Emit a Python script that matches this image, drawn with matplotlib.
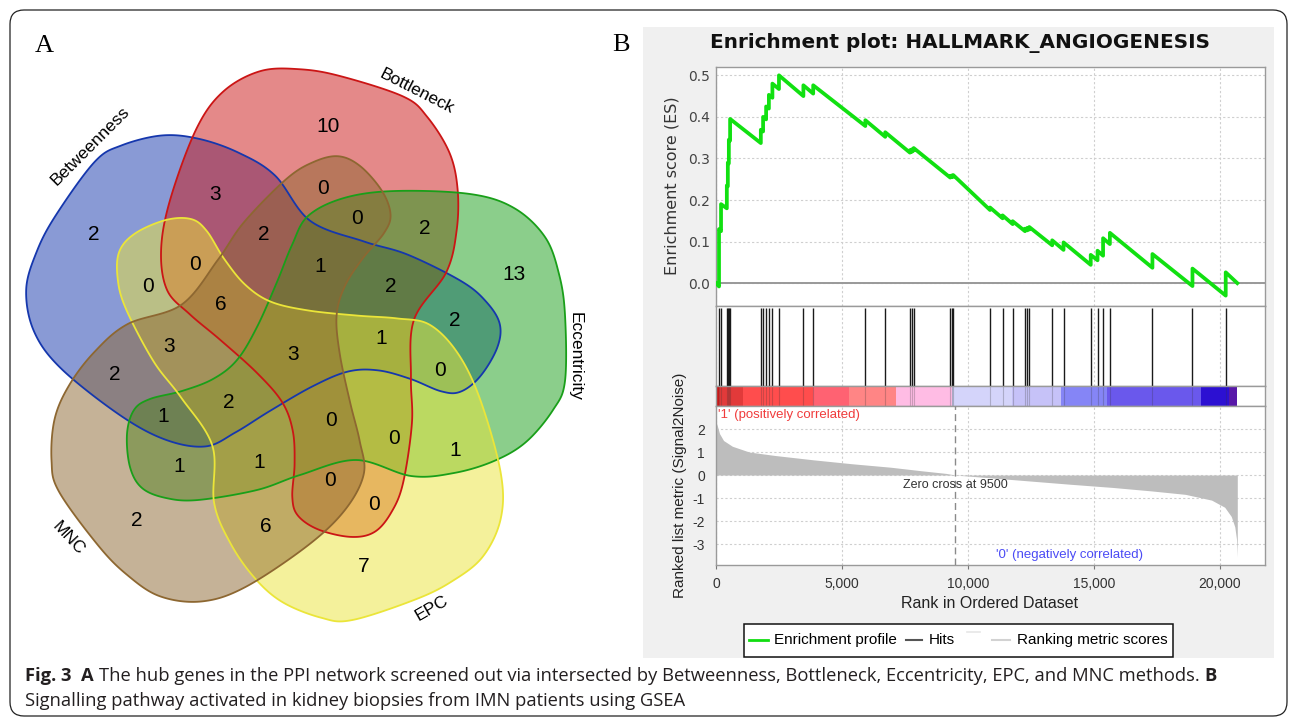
import numpy as np
import matplotlib
matplotlib.use("Agg")
import matplotlib.pyplot as plt
from matplotlib.patches import FancyBboxPatch, Rectangle, Polygon
from matplotlib.ticker import FuncFormatter

plt.rcParams["axes.unicode_minus"] = False

W, H = 1292, 724

# ── Panel A: hub genes found by each method (5-set Venn) ─────────────────────
SET_NAMES = ["Betweenness", "Bottleneck", "Eccentricity", "EPC", "MNC"]
SET_COLORS = ["#1537AD", "#CB1515", "#199F19", "#EBE539", "#8D6731"]
REGION_COUNTS = [2, 10, 13, 7, 2, 3, 0, 0, 2, 2, 0, 0, 1, 2, 6, 3,
                 2, 1, 3, 0, 2, 2, 1, 0, 0, 1, 1, 1, 0, 0, 6]

# ── Panel B: GSEA for HALLMARK_ANGIOGENESIS ─────────────────────────────────
HIT_RANKS = [120, 200, 430, 470, 510, 560, 1780, 1870, 1990, 2100, 2240, 2500,
             3470, 3860, 5930, 6720, 7700, 7780, 7850, 9300, 9360, 9420,
             10880, 11380, 11780, 12270, 12360, 12440, 13350, 13800, 14880,
             15150, 15370, 15640, 17330, 18920, 20240]
ES_BEFORE = [-0.008, 0.125, 0.180, 0.233, 0.288, 0.343, 0.337, 0.365, 0.394,
             0.420, 0.446, 0.467, 0.450, 0.456, 0.378, 0.352, 0.314, 0.316,
             0.319, 0.254, 0.255, 0.256, 0.176, 0.156, 0.142, 0.125, 0.127,
             0.129, 0.091, 0.080, 0.044, 0.055, 0.066, 0.094, 0.037, -0.007,
             -0.030]
ES_AFTER = [0.130, 0.190, 0.235, 0.290, 0.345, 0.395, 0.369, 0.400, 0.425,
            0.453, 0.480, 0.500, 0.476, 0.476, 0.392, 0.363, 0.320, 0.322,
            0.325, 0.258, 0.259, 0.260, 0.182, 0.163, 0.149, 0.131, 0.133,
            0.135, 0.103, 0.098, 0.068, 0.078, 0.108, 0.121, 0.070, 0.035,
            0.026]
LIST_END = 20700
METRIC_RANKS = [0, 50, 140, 300, 650, 1320, 2340, 3870, 5400, 6930, 8120,
                9140, 9500, 10660, 12360, 14060, 15760, 17290, 18640, 19680,
                20200, 20460, 20600, 20670, 20700]
METRIC_VALUES = [2.3, 2.15, 1.8, 1.5, 1.25, 1.0, 0.85, 0.66, 0.49, 0.34, 0.19,
                 0.07, 0.0, -0.10, -0.25, -0.40, -0.54, -0.69, -0.84, -1.09,
                 -1.4, -1.8, -2.25, -2.8, -3.55]
ZERO_CROSS = 9500
BAR_EDGES = [0, 130, 1060, 3840, 5300, 7150, 9380, 11770, 13700, 15530,
             19250, 20360, 20700]
BAR_COLORS = ["#C81818", "#E23A3A", "#FF4D4D", "#FF6272", "#FF8585", "#FFBCE4",
              "#D4D4FA", "#C6C2F8", "#8585F6", "#6A58EC", "#2C10D2", "#5818A8"]
X_TICKS = [0, 5000, 10000, 15000, 20000]
ES_TICKS = [0.0, 0.1, 0.2, 0.3, 0.4, 0.5]
METRIC_TICKS = [2, 1, 0, -1, -2, -3]

# ── Layout of panel A (pixels) ──────────────────────────────────────────────
VENN_CENTER = (294, 354)
# outline of one set (Eccentricity), relative to the centre, y up
PETAL = [(14, 138), (50, 156), (101, 163), (176, 160), (220, 146), (251, 117),
         (265, 80), (271, 39), (271, -27), (259, -56), (232, -88), (200, -107),
         (160, -119), (117, -122), (62, -106), (6, -121), (-37, -136),
         (-96, -146), (-128, -144), (-152, -134), (-164, -113), (-167, -80),
         (-160, -56), (-144, -45), (-112, -37), (-81, -25), (-57, -6),
         (-37, 27), (-17, 72), (-2, 109)]
PETAL_TURN = [144, 72, 0, -72, -144]
PETAL_SHIFT = [(4, -11), (0, -8), (0, 0), (0, 0), (0, 0)]
REGION_XY = [(94, 234), (328, 127), (514, 275), (364, 566), (137, 520),
             (215, 195), (323, 188), (357, 219), (425, 229), (264, 235),
             (148, 287), (195, 265), (320, 267), (391, 286), (221, 305),
             (293, 355), (455, 320), (381, 339), (169, 347), (440, 371),
             (115, 375), (229, 403), (163, 416), (331, 420), (394, 439),
             (455, 450), (179, 467), (259, 462), (330, 480), (374, 505),
             (266, 526)]
SET_LABEL_XY = [(90, 146), (417, 91), (575, 356), (432, 608), (68, 538)]
SET_LABEL_ROT = [45, -27, -90, 30, -47]

SANS = ["Liberation Sans", "DejaVu Sans"]


def smooth_closed(pts, n=20):
    P = np.asarray(pts, float)
    m = len(P)
    t = np.linspace(0, 1, n, endpoint=False)[:, None]
    segs = []
    for i in range(m):
        p0, p1, p2, p3 = P[i - 1], P[i], P[(i + 1) % m], P[(i + 2) % m]
        segs.append(0.5 * (2 * p1 + (p2 - p0) * t
                           + (2 * p0 - 5 * p1 + 4 * p2 - p3) * t ** 2
                           + (3 * p1 - p0 - 3 * p2 + p3) * t ** 3))
    return np.vstack(segs)


fig = plt.figure(figsize=(W / 100, H / 100), dpi=100)
fig.patch.set_facecolor("white")
bg = fig.add_axes([0, 0, 1, 1])
bg.set_xlim(0, W)
bg.set_ylim(H, 0)
bg.axis("off")

# outer frame
bg.add_patch(FancyBboxPatch((10, 10), 1277, 706,
                            boxstyle="round,pad=0,rounding_size=14",
                            facecolor="none", edgecolor="#222", lw=0.9))

# ── Panel A ────────────────────────────────────────────────────────────────
bg.text(44, 46, "A", family="Liberation Serif", fontsize=19,
        ha="center", va="center")
outline = smooth_closed(PETAL)
cx, cy = VENN_CENTER
shapes = []
for name, col, turn, (dx, dy) in zip(SET_NAMES, SET_COLORS, PETAL_TURN,
                                     PETAL_SHIFT):
    a = np.radians(turn)
    rx = outline[:, 0] * np.cos(a) - outline[:, 1] * np.sin(a)
    ry = outline[:, 0] * np.sin(a) + outline[:, 1] * np.cos(a)
    xy = np.column_stack([cx + dx + rx, cy + dy - ry])
    bg.add_patch(Polygon(xy, closed=True, facecolor=col, alpha=0.5,
                         edgecolor="none", zorder=2))
    shapes.append((xy, col))
for xy, col in shapes:
    bg.add_patch(Polygon(xy, closed=True, facecolor="none", edgecolor=col,
                         lw=1.3, zorder=3))
for n, (x, y) in zip(REGION_COUNTS, REGION_XY):
    bg.text(x, y, str(n), family=SANS, fontsize=15, ha="center",
            va="center", zorder=4)
for name, (x, y), rot in zip(SET_NAMES, SET_LABEL_XY, SET_LABEL_ROT):
    bg.text(x, y, name, family=SANS, fontsize=12.5, rotation=rot,
            rotation_mode="anchor", ha="center", va="center", zorder=4)

# ── Panel B ────────────────────────────────────────────────────────────────
bg.text(621, 45, "B", family="Liberation Serif", fontsize=19,
        ha="center", va="center")
bg.add_patch(Rectangle((643, 27), 631, 631, facecolor="#F0F0F0",
                       edgecolor="none", zorder=0))
bg.text(960, 43, "Enrichment plot: HALLMARK_ANGIOGENESIS", family="DejaVu Sans",
        fontsize=14.4, fontweight="bold", ha="center", va="center",
        color="#111")

X0, X1 = 716, 1265
XMAX = 21800


def panel(top, bottom):
    ax = fig.add_axes([X0 / W, 1 - bottom / H, (X1 - X0) / W,
                       (bottom - top) / H])
    ax.set_facecolor("white")
    ax.set_xlim(0, XMAX)
    for s in ax.spines.values():
        s.set_color("#9A9A9A")
        s.set_linewidth(1.0)
    return ax


grid_kw = dict(color="#CFCFCF", lw=0.8, ls=(0, (2, 2)))

# running enrichment score
ax_es = panel(67, 306)
ax_es.set_ylim(-0.055, 0.52)
ax_es.set_xticks(X_TICKS)
ax_es.set_yticks(ES_TICKS)
ax_es.grid(True, **grid_kw)
ax_es.tick_params(axis="x", length=0, labelbottom=False)
ax_es.tick_params(axis="y", length=0, pad=4, labelsize=10, labelcolor="#444")
for lab in ax_es.get_yticklabels():
    lab.set_family("DejaVu Sans")
ax_es.yaxis.set_major_formatter(FuncFormatter(lambda v, p: f"{v:.1f}"))
ax_es.axhline(0, color="#999", lw=1.4, zorder=2)
es_x = [0] + [r for r in HIT_RANKS for _ in (0, 1)] + [LIST_END]
es_y = [0] + [v for pair in zip(ES_BEFORE, ES_AFTER) for v in pair] + [0.0]
ax_es.plot(es_x, es_y, color="#11E011", lw=2.7, zorder=3,
           solid_joinstyle="round")

# hits
ax_hit = panel(306, 386)
ax_hit.set_ylim(0, 1.03)
ax_hit.set_xticks(X_TICKS)
ax_hit.set_yticks([])
ax_hit.grid(True, axis="x", **grid_kw)
ax_hit.tick_params(axis="x", length=0, labelbottom=False)
ax_hit.vlines(HIT_RANKS, 0, 1, color="#1A1A1A", lw=1.0, zorder=3)

# ranked-list colour bar
ax_bar = panel(386, 406)
ax_bar.set_ylim(0, 1)
ax_bar.set_xticks([])
ax_bar.set_yticks([])
ax_bar.broken_barh([(a, b - a) for a, b in zip(BAR_EDGES[:-1], BAR_EDGES[1:])],
                   (0, 1), facecolors=BAR_COLORS)
ax_bar.vlines(HIT_RANKS, 0, 1, color="#333", lw=0.8, alpha=0.25)

# ranked list metric
ax_rk = panel(406, 565)
ax_rk.set_ylim(-3.91, 3.0)
ax_rk.set_xticks(X_TICKS)
ax_rk.set_yticks(METRIC_TICKS)
ax_rk.grid(True, **grid_kw)
ax_rk.fill_between(METRIC_RANKS, 0, METRIC_VALUES, color="#BDBDBD", lw=0,
                   zorder=2)
ax_rk.axvline(ZERO_CROSS, color="#8A8A8A", lw=1.0, ls=(0, (5, 3)), zorder=3)
ax_rk.xaxis.set_major_formatter(FuncFormatter(lambda v, p: f"{v:,.0f}"))
ax_rk.tick_params(axis="x", length=3, color="#777", labelsize=10,
                  labelcolor="#333", pad=6)
ax_rk.tick_params(axis="y", length=0, labelsize=10, labelcolor="#333", pad=8)
for lab in ax_rk.get_xticklabels() + ax_rk.get_yticklabels():
    lab.set_family(SANS)
ax_rk.text(60, 2.63, "'1' (positively correlated)", family=SANS, fontsize=9.5,
           color="#F03C3C", va="center", ha="left")
ax_rk.text(11100, -3.48, "'0' (negatively correlated)", family=SANS,
           fontsize=9.5, color="#4B4BF5", va="center", ha="left")
ax_rk.text(ZERO_CROSS, -0.42, "Zero cross at 9500", family=SANS, fontsize=9,
           color="#333", va="center", ha="center")

bg.text(672, 186, "Enrichment score (ES)", family="DejaVu Sans", fontsize=11.5,
        rotation=90, ha="center", va="center", color="#333")
bg.text(680, 485, "Ranked list metric (Signal2Noise)", family=SANS,
        fontsize=11, rotation=90, ha="center", va="center", color="#222")
bg.text(990, 603, "Rank in Ordered Dataset", family=SANS, fontsize=11.5,
        ha="center", va="center", color="#222")

# legend
bg.add_patch(Rectangle((744, 624), 429, 33, facecolor="white",
                       edgecolor="#111", lw=1.1, zorder=2))
bg.plot([749, 768], [640, 640], color="#11DD11", lw=2.0, zorder=3)
bg.text(774, 640, "Enrichment profile", family=SANS, fontsize=11,
        va="center", zorder=3)
bg.plot([906, 922], [640, 640], color="#555", lw=1.5, zorder=3)
bg.text(929, 640, "Hits", family=SANS, fontsize=11, va="center", zorder=3)
bg.plot([967, 980], [632, 632], color="#E6E6E6", lw=1.2, zorder=3)
bg.plot([992, 1010], [640, 640], color="#D2D2D2", lw=1.5, zorder=3)
bg.text(1017, 640, "Ranking metric scores", family=SANS, fontsize=11,
        va="center", zorder=3)

# ── Caption ────────────────────────────────────────────────────────────────
CAP_FAMILY = ["Open Sans", "DejaVu Sans"]
CAP_COLOR = "#231F20"
renderer = fig.canvas.get_renderer()
line1 = [("Fig. 3", "bold", 2), ("A", "bold", 1),
         ("The hub genes in the PPI network screened out via intersected by "
          "Betweenness, Bottleneck, Eccentricity, EPC, and MNC methods.",
          "normal", 1), ("B", "bold", 0)]
line2 = [("Signalling pathway activated in kidney biopsies from IMN patients "
          "using GSEA", "normal", 0)]


def width_of(text, size, weight):
    t = bg.text(0, 0, text, family=CAP_FAMILY, fontsize=size,
                fontweight=weight)
    w = t.get_window_extent(renderer).width
    t.remove()
    return w


def gap_px(size):
    return 0.27 * size * 100 / 72


base = 10.0
total = sum(width_of(s, base, wt) + g * gap_px(base) for s, wt, g in line1)
cap_size = base * (1222 - 25) / total


def draw_line(parts, y):
    x = 25
    for s, wt, g in parts:
        t = bg.text(x, y, s, family=CAP_FAMILY, fontsize=cap_size,
                    fontweight=wt, color=CAP_COLOR, ha="left", va="center")
        x += t.get_window_extent(renderer).width + g * gap_px(cap_size)


draw_line(line1, 676)
draw_line(line2, 701)

fig.savefig("out.png", dpi=100)
